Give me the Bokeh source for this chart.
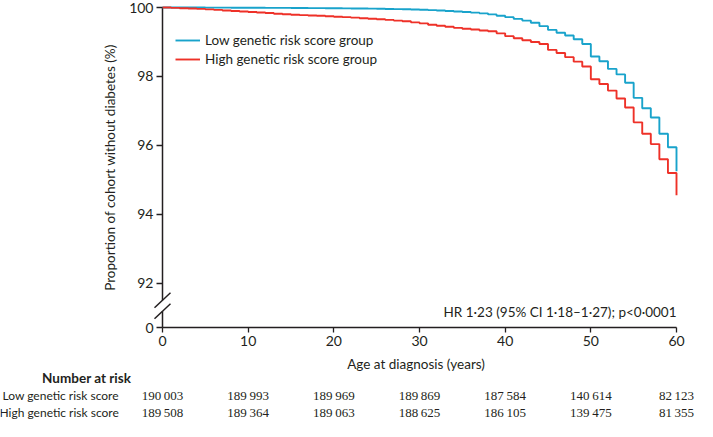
from bokeh.plotting import figure
from bokeh.models import (ColumnDataSource, FixedTicker, CustomJSTickFormatter, Label,
                          LabelSet, Legend, LegendItem, Range1d)
from bokeh.embed import file_html
from bokeh.resources import INLINE

# ---------------- data ----------------
ages = list(range(0, 61))
low_grs = [100.00, 100.00, 100.00, 99.999, 99.998, 99.997, 99.996, 99.995, 99.994, 99.993,
           99.992, 99.991, 99.990, 99.989, 99.988, 99.987, 99.985, 99.983, 99.981, 99.979,
           99.977, 99.975, 99.972, 99.969, 99.966, 99.962, 99.958, 99.953, 99.948, 99.942,
           99.935, 99.925, 99.915, 99.900, 99.885, 99.870, 99.850, 99.830, 99.800, 99.760,
           99.720, 99.670, 99.620, 99.560, 99.460, 99.350, 99.270, 99.190, 99.080, 98.940,
           98.580, 98.440, 98.220, 98.060, 97.820, 97.380, 97.080, 96.810, 96.340, 95.950,
           95.250]
high_grs = [100.00, 99.990, 99.980, 99.970, 99.960, 99.945, 99.930, 99.915, 99.900, 99.885,
            99.870, 99.855, 99.840, 99.820, 99.805, 99.790, 99.780, 99.770, 99.760, 99.745,
            99.730, 99.720, 99.705, 99.690, 99.675, 99.660, 99.640, 99.620, 99.600, 99.570,
            99.540, 99.500, 99.470, 99.440, 99.410, 99.385, 99.360, 99.335, 99.310, 99.250,
            99.170, 99.110, 99.050, 99.000, 98.940, 98.770, 98.680, 98.560, 98.430, 98.290,
            97.920, 97.780, 97.590, 97.360, 97.100, 96.670, 96.340, 96.040, 95.600, 95.200,
            94.560]
series_names = ["Low genetic risk score group", "High genetic risk score group"]
risk_ages = [0, 10, 20, 30, 40, 50, 60]
risk_low = ["190\u2009003", "189\u2009993", "189\u2009969", "189\u2009869", "187\u2009584",
            "140\u2009614", "82\u2009123"]
risk_high = ["189\u2009508", "189\u2009364", "189\u2009063", "188\u2009625", "186\u2009105",
             "139\u2009475", "81\u2009355"]
row_names = ["Low genetic risk score", "High genetic risk score"]
y_ticks = [92, 94, 96, 98, 100]
x_ticks = [0, 10, 20, 30, 40, 50, 60]
hr_text = "HR 1\u00b723 (95% CI 1\u00b718\u20131\u00b727); p<0\u00b70001"

# ---------------- style / layout ----------------
FONT = "Lato"
TXT = "#231f20"
BLUE = "#19a3cb"
RED = "#ee3128"
W, H = 697, 421
X_ZERO_PX, X_SIXTY_PX = 162, 676      # pixel columns of age 0 and 60
Y_TOP_PX, Y_ZERO_PX = 7, 327          # pixel rows of 100 % and of the broken-axis "0"
PXX = (X_SIXTY_PX - X_ZERO_PX) / 60.0
X0 = -X_ZERO_PX / PXX
X1 = (W - X_ZERO_PX) / PXX
FAKE0 = 92 - 8 * 46 / 288             # data position of the "0" on the broken y axis
K = (Y_ZERO_PX - Y_TOP_PX) / (100 - FAKE0)   # px per y unit
Y1 = 100 + Y_TOP_PX / K
Y0 = FAKE0 - (H - Y_ZERO_PX) / K
GAP = 92 - FAKE0
BRK_HI = 92 - 0.38 * GAP
BRK_LO = 92 - 0.63 * GAP


def below(px):
    return FAKE0 - px / K


p = figure(width=W, height=H, x_range=Range1d(X0, X1), y_range=Range1d(Y0, Y1),
           output_backend="svg", toolbar_location=None,
           min_border_left=0, min_border_right=0, min_border_top=0, min_border_bottom=0)
p.grid.visible = False
p.outline_line_color = None
p.background_fill_color = "white"
p.border_fill_color = "white"

# y axis (drawn at age 0)
ya = p.yaxis[0]
ya.fixed_location = 0
ya.bounds = (FAKE0, 100)
ya.ticker = FixedTicker(ticks=[FAKE0] + y_ticks)
ya.formatter = CustomJSTickFormatter(code="return tick < 91 ? '0' : tick.toFixed(0);")
ya.axis_line_color = None
ya.major_tick_out = 6
ya.major_tick_in = 0
ya.major_tick_line_color = TXT
ya.major_tick_line_width = 1.3
ya.minor_tick_line_color = None
ya.major_label_standoff = 3
ya.major_label_text_font = FONT
ya.major_label_text_font_size = "14px"
ya.major_label_text_color = TXT
ya.axis_label = "Proportion of cohort without diabetes (%)"
ya.axis_label_text_font = FONT
ya.axis_label_text_font_size = "13.5px"
ya.axis_label_text_font_style = "normal"
ya.axis_label_text_color = TXT
ya.axis_label_standoff = 8

# x axis (drawn at the broken-axis zero)
xa = p.xaxis[0]
xa.fixed_location = FAKE0
xa.ticker = FixedTicker(ticks=x_ticks)
xa.bounds = (0, 60)
xa.axis_line_color = TXT
xa.axis_line_width = 1.5
xa.major_tick_out = 5
xa.major_tick_in = 0
xa.major_tick_line_color = TXT
xa.major_tick_line_width = 1.3
xa.minor_tick_line_color = None
xa.major_label_standoff = 3
xa.major_label_text_font = FONT
xa.major_label_text_font_size = "14px"
xa.major_label_text_color = TXT

# broken y spine + break marks
p.segment(x0=[0, 0], y0=[100, BRK_LO], x1=[0, 0], y1=[BRK_HI, FAKE0],
          line_color=TXT, line_width=1.5)
dx, dy = 8 / PXX, 7.5 / K
p.segment(x0=[-dx, -dx], y0=[BRK_HI - dy, BRK_LO - dy], x1=[dx, dx], y1=[BRK_HI + dy, BRK_LO + dy],
          line_color=TXT, line_width=1.5)

# curves
r_low = p.step(ages, low_grs, mode="after", line_color=BLUE, line_width=1.9)
r_high = p.step(ages, high_grs, mode="after", line_color=RED, line_width=1.9)

legend = Legend(items=[LegendItem(label=series_names[0], renderers=[r_low]),
                       LegendItem(label=series_names[1], renderers=[r_high])],
                location=(175, 353),
                glyph_width=25, glyph_height=18, label_height=18, label_standoff=5,
                spacing=1, padding=0, margin=0, border_line_color=None,
                background_fill_alpha=0, label_text_font=FONT, label_text_font_size="13.5px",
                label_text_color=TXT)
p.add_layout(legend, "center")

p.add_layout(Label(x=60, y=FAKE0 + 15.7 / K, text=hr_text, text_align="right",
                   text_baseline="middle", text_font=FONT, text_font_size="13.5px",
                   text_color=TXT))
p.add_layout(Label(x=29.6, y=below(36), text="Age at diagnosis (years)", text_align="center",
                   text_baseline="middle", text_font=FONT, text_font_size="13.5px",
                   text_color=TXT))
p.add_layout(Label(x=-8.86, y=below(50), text="Number at risk", text_align="center",
                   text_baseline="middle", text_font=FONT, text_font_size="13.5px",
                   text_font_style="bold", text_color=TXT))
row_offsets = [67.6, 84.8]
for i, name in enumerate(row_names):
    p.add_layout(Label(x=-5.1, y=below(row_offsets[i]), text=name, text_align="right",
                       text_baseline="middle", text_font=FONT, text_font_size="12px",
                       text_color=TXT))

for i, vals in enumerate([risk_low, risk_high]):
    src = ColumnDataSource(dict(x=risk_ages, y=[below(row_offsets[i])] * len(risk_ages), t=vals))
    p.add_layout(LabelSet(x="x", y="y", text="t", source=src, text_align="center",
                          text_baseline="middle", text_font=FONT, text_font_size="13px",
                          text_color=TXT))

open("out.html", "w").write(file_html(p, INLINE))
